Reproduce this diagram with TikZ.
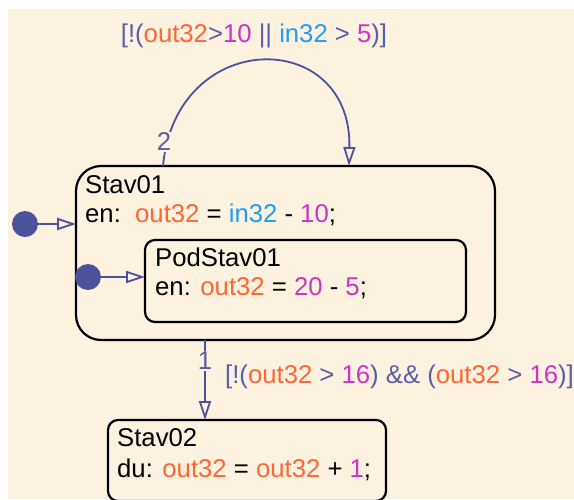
\documentclass[tikz,border=0pt]{standalone}
\usepackage{fontspec}
\setmainfont{Liberation Sans}
\usetikzlibrary{arrows.meta}
\definecolor{bgc}{HTML}{FDF2E0}
\definecolor{lnblue}{HTML}{4B529B}
\definecolor{txblue}{HTML}{5A5EA6}
\definecolor{orng}{HTML}{FF6633}
\definecolor{mag}{HTML}{CC33C6}
\definecolor{cyn}{HTML}{1E9EF5}
\newcommand{\vr}[1]{\textcolor{orng}{#1}}
\newcommand{\nm}[1]{\textcolor{mag}{#1}}
\newcommand{\vi}[1]{\textcolor{cyn}{#1}}
\begin{document}
\begin{tikzpicture}[x=1pt,y=-1pt,
  font=\fontsize{25.7}{29}\selectfont,
  statebox/.style={draw=black, line width=2.2pt, inner sep=0pt, outer sep=0pt, anchor=north west},
  txt/.style={inner sep=0pt, anchor=base west},
  tip/.style={-{Triangle[open,length=19pt,width=12pt,line width=1.8pt]}},
  trans/.style={draw=lnblue, line width=1.8pt, tip},
  dflt/.style={draw=lnblue, line width=1.8pt, tip},
  dot/.style={circle, fill=lnblue, minimum size=26pt, inner sep=0pt},
  tlabel/.style={text=txblue, inner sep=0pt},
  tnum/.style={text=txblue, fill=bgc, inner sep=1pt}]
\useasboundingbox (0,0) rectangle (574,499);
\begin{scope}
\clip (0,0) rectangle (574,499);
\fill[bgc] (8,9) rectangle (574,499);

% states
\node[statebox, rounded corners=25pt, minimum width=419pt, minimum height=174pt] (s1box) at (76,166) {};
\node[statebox, rounded corners=10pt, minimum width=321pt, minimum height=82pt] (p1box) at (145,240) {};
\node[statebox, rounded corners=10pt, minimum width=278pt, minimum height=81pt] (s2box) at (108,420) {};

\node[txt] (s1name) at (85,193) {Stav01};
\node[txt] (s1act) at (85,222) {en:\ \ \vr{out32} = \vi{in32} - \nm{10};};
\node[txt] (p1name) at (155,266) {PodStav01};
\node[txt] (p1act) at (155,295) {en: \vr{out32} = \nm{20} - \nm{5};};
\node[txt] (s2name) at (117,446) {Stav02};
\node[txt] (s2act) at (117,477) {du: \vr{out32} = \vr{out32} + \nm{1};};

% default transitions
\node[dot] (d1) at (25,224) {};
\draw[dflt] (d1) -- (d1 -| s1box.west);
\node[dot] (d2) at (88,277) {};
\draw[dflt] (d2) -- (d2 -| p1box.west);

% self loop on Stav01
\coordinate (lpA) at (163,166);
\coordinate (lpB) at (349,166);
\draw[trans] (lpA) .. controls (176,27) and (352,27) .. (lpB);
\node[tnum] (n2) at (164,142) {2};
\node[tlabel, anchor=base] (g2) at (254,42) {[!(\vr{out32}>\nm{10} || \vi{in32} > \nm{5})]};

% Stav01 -> Stav02
\coordinate (t1a) at (205,340);
\draw[trans] (t1a) -- (t1a |- s2box.north);
\node[tnum] (n1) at (205,361) {1};
\node[tlabel, anchor=base west] (g1) at (225,383) {[!(\vr{out32} > \nm{16}) \&\& (\vr{out32} > \nm{16})]};
\end{scope}
\end{tikzpicture}
\end{document}
